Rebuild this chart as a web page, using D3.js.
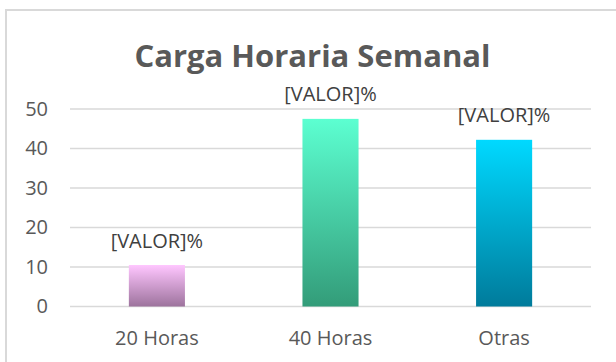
<!DOCTYPE html>
<html>
<head>
<meta charset="utf-8">
<script src="https://cdn.jsdelivr.net/npm/d3@7"></script>
<style>
  html, body { margin: 0; padding: 0; background: #fff; }
  svg { display: block; }
  text { font-family: "Open Sans", sans-serif; }
</style>
</head>
<body>
<svg id="chart" width="616" height="362"></svg>
<script>
// Weekly teaching-load distribution
const categories = ["20 Horas", "40 Horas", "Otras"];
const values = [10.5, 47.5, 42.2];
const labels = ["[VALOR]%", "[VALOR]%", "[VALOR]%"];
const yTicks = [0, 10, 20, 30, 40, 50];
const gradientStops = [
  ["#ffc6ff", "#9d739d"],
  ["#5cffd1", "#339c79"],
  ["#00d9ff", "#007b9b"]
];

const svg = d3.select("#chart");
const W = 616, H = 362;
const plotLeft = 70, plotRight = 591;
const plotTop = 109, plotBottom = 306.5;
const labelSize = "20px";

// outer chart frame
svg.append("rect")
  .attr("x", 6).attr("y", 10)
  .attr("width", W + 10).attr("height", H + 10)
  .attr("fill", "#fff")
  .attr("stroke", "#d9d9d9").attr("stroke-width", 2);

const x = d3.scaleBand()
  .domain(categories)
  .range([plotLeft, plotRight])
  .paddingInner(0.677)
  .paddingOuter(0.339);

const y = d3.scaleLinear()
  .domain([0, 50])
  .range([plotBottom, plotTop]);

const defs = svg.append("defs");
gradientStops.forEach((s, i) => {
  const g = defs.append("linearGradient")
    .attr("id", "grad" + i)
    .attr("x1", 0).attr("y1", 0).attr("x2", 0).attr("y2", 1);
  g.append("stop").attr("offset", "0%").attr("stop-color", s[0]);
  g.append("stop").attr("offset", "100%").attr("stop-color", s[1]);
});

// horizontal gridlines
svg.append("g")
  .selectAll("line")
  .data(yTicks)
  .join("line")
  .attr("x1", plotLeft).attr("x2", plotRight)
  .attr("y1", d => y(d)).attr("y2", d => y(d))
  .attr("stroke", "#d9d9d9").attr("stroke-width", 1.5);

// y axis tick labels
const yAxis = svg.append("g")
  .attr("transform", `translate(${plotLeft},0)`)
  .call(d3.axisLeft(y).tickValues(yTicks).tickSize(0).tickPadding(22));
yAxis.select(".domain").remove();
yAxis.selectAll("text")
  .attr("fill", "#595959")
  .style("font-size", labelSize)
  .style("font-family", "'Open Sans', sans-serif");

// x axis category labels
const xAxis = svg.append("g")
  .attr("transform", `translate(0,${plotBottom})`)
  .call(d3.axisBottom(x).tickSize(0).tickPadding(24));
xAxis.select(".domain").remove();
xAxis.selectAll("text")
  .attr("fill", "#595959")
  .style("font-size", labelSize)
  .style("font-family", "'Open Sans', sans-serif");

// bars
svg.append("g")
  .selectAll("rect")
  .data(values)
  .join("rect")
  .attr("x", (d, i) => x(categories[i]))
  .attr("y", d => y(d))
  .attr("width", x.bandwidth())
  .attr("height", d => y(0) - y(d))
  .attr("fill", (d, i) => `url(#grad${i})`);

// data labels
svg.append("g")
  .selectAll("text")
  .data(values)
  .join("text")
  .attr("x", (d, i) => x(categories[i]) + x.bandwidth() / 2)
  .attr("y", d => y(d) - 17.5)
  .attr("text-anchor", "middle")
  .attr("fill", "#404040")
  .style("font-size", labelSize)
  .text((d, i) => labels[i]);

// title
svg.append("text")
  .attr("x", 312.5).attr("y", 66.5)
  .attr("text-anchor", "middle")
  .attr("fill", "#595959")
  .style("font-size", "31px")
  .style("font-weight", "bold")
  .text("Carga Horaria Semanal");
</script>
</body>
</html>
